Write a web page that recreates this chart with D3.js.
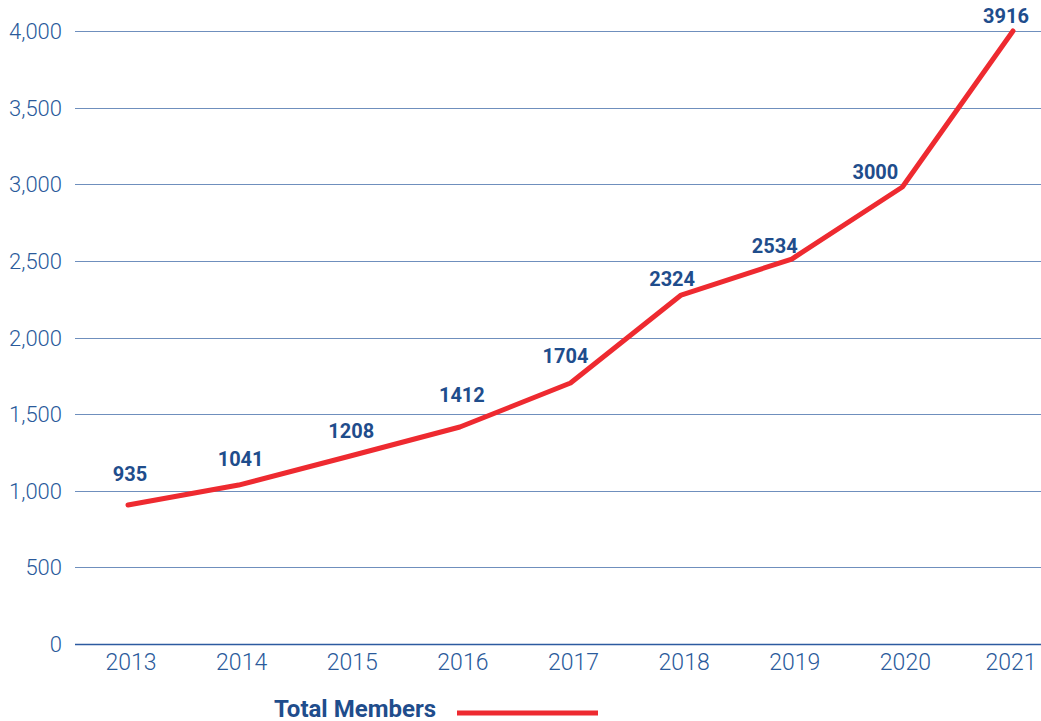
<!DOCTYPE html>
<html>
<head>
<meta charset="utf-8">
<script src="https://cdn.jsdelivr.net/npm/d3@7"></script>
<style>
  body { margin: 0; background: #fff; }
  svg { display: block; font-family: Roboto, "Open Sans", sans-serif; }
</style>
</head>
<body>
<div id="chart"></div>
<script>
// data
const years = ["2013", "2014", "2015", "2016", "2017", "2018", "2019", "2020", "2021"];
// where the line is drawn in the picture
const members = [907, 1037, 1225, 1416, 1703, 2277, 2512, 2982, 4000];
// value labels printed on the chart
const memberLabels = ["935", "1041", "1208", "1412", "1704", "2324", "2534", "3000", "3916"];
const yTicks = [0, 500, 1000, 1500, 2000, 2500, 3000, 3500, 4000];
const seriesName = "Total Members";

// layout
const W = 1041, H = 721;
const plot = {left: 75, right: 1041, top: 31, bottom: 644};
// label nudges relative to each point [dx, dy]
const labelNudge = [[2, -24], [2, -19], [2, -18], [2, -25], [-5, -20], [-9, -9], [-17, -6], [-27, -8], [-7, -8]];

const blue = "#2a5a9b", labelBlue = "#1f4d8c", red = "#ee2a30";

const svg = d3.select("#chart").append("svg")
    .attr("width", W)
    .attr("height", H);

const x = d3.scalePoint()
    .domain(years)
    .range([128, 1013]);

const y = d3.scaleLinear()
    .domain([0, 4000])
    .range([plot.bottom, plot.top]);

// gridlines
svg.append("g")
    .selectAll("line")
    .data(yTicks)
    .enter()
    .append("line")
    .attr("x1", plot.left)
    .attr("x2", plot.right)
    .attr("y1", d => Math.round(y(d)) + 0.5)
    .attr("y2", d => Math.round(y(d)) + 0.5)
    .attr("stroke", d => d === 0 ? "#2c5aa0" : "#6f8fbd")
    .attr("stroke-width", d => d === 0 ? 1.6 : 1.2);

// y axis labels
svg.append("g")
    .selectAll("text")
    .data(yTicks)
    .enter()
    .append("text")
    .attr("x", 62)
    .attr("y", d => y(d) + 8)
    .attr("text-anchor", "end")
    .attr("font-size", 22)
    .attr("font-weight", 300)
    .attr("fill", blue)
    .text(d => d3.format(",")(d));

// x axis labels
svg.append("g")
    .selectAll("text")
    .data(years)
    .enter()
    .append("text")
    .attr("x", d => Math.min(x(d) + 3, 1011))
    .attr("y", 670)
    .attr("text-anchor", "middle")
    .attr("font-size", 23)
    .attr("font-weight", 300)
    .attr("fill", blue)
    .text(d => d);

// line
const line = d3.line()
    .x((d, i) => x(years[i]))
    .y(d => y(d));

svg.append("path")
    .datum(members)
    .attr("d", line)
    .attr("fill", "none")
    .attr("stroke", red)
    .attr("stroke-width", 5)
    .attr("stroke-linejoin", "round")
    .attr("stroke-linecap", "round");

// value labels
svg.append("g")
    .selectAll("text")
    .data(memberLabels)
    .enter()
    .append("text")
    .attr("x", (d, i) => x(years[i]) + labelNudge[i][0])
    .attr("y", (d, i) => y(members[i]) + labelNudge[i][1])
    .attr("text-anchor", "middle")
    .attr("font-size", 20)
    .attr("font-weight", 700)
    .attr("fill", labelBlue)
    .text(d => d);

// legend
const legend = svg.append("g");
legend.append("text")
    .attr("x", 436)
    .attr("y", 717)
    .attr("text-anchor", "end")
    .attr("font-size", 24)
    .attr("font-weight", 700)
    .attr("fill", labelBlue)
    .text(seriesName);
legend.append("line")
    .attr("x1", 457)
    .attr("x2", 598)
    .attr("y1", 713)
    .attr("y2", 713)
    .attr("stroke", red)
    .attr("stroke-width", 5);
</script>
</body>
</html>
